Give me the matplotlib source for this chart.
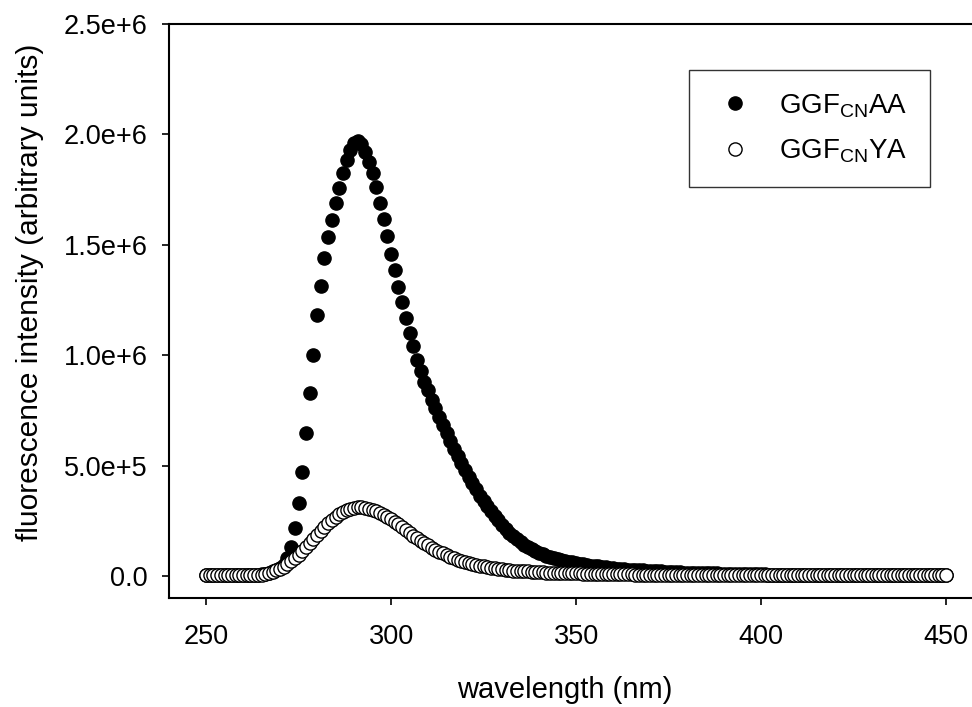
"""Fluorescence emission spectra of GGF(CN)AA and GGF(CN)YA."""

import matplotlib
matplotlib.use('Agg')
import matplotlib.pyplot as plt
import numpy as np

plt.rcParams['font.family'] = 'Liberation Sans'
plt.rcParams['mathtext.fontset'] = 'custom'
plt.rcParams['mathtext.rm'] = 'Liberation Sans'
plt.rcParams['mathtext.it'] = 'Liberation Sans:italic'
plt.rcParams['mathtext.bf'] = 'Liberation Sans:bold'

# wavelength, 1 nm steps
wavelength = np.arange(250, 451)

# intensities, in thousands
aa_k = [2, 2, 2, 2, 2, 2, 2, 3, 3, 3,
        3, 4, 4, 5, 6, 8, 10, 14, 20, 28,
        38, 50, 80, 133, 217, 330, 472, 646, 830, 1000,
        1180, 1315, 1440, 1535, 1612, 1688, 1756, 1827, 1884, 1930,
        1962, 1971, 1957, 1922, 1876, 1824, 1763, 1690, 1615, 1540,
        1460, 1385, 1310, 1240, 1170, 1100, 1040, 980, 930, 880,
        840, 797, 760, 722, 685, 647, 612, 577, 543, 510,
        480, 450, 420, 392, 362, 338, 315, 293, 272, 251,
        231, 213, 196, 181, 167, 154, 142, 131, 121, 112,
        104, 97, 91, 86, 81, 77, 73, 69, 65, 62,
        59, 56, 53, 50, 47, 45, 43, 41, 39, 37,
        35, 33, 32, 30, 29, 28, 27, 26, 25, 24,
        23, 22, 21, 20, 19, 18, 17, 17, 16, 15,
        15, 14, 14, 13, 13, 12, 12, 11, 11, 10,
        10, 10, 9, 9, 9, 8, 8, 8, 7, 7,
        7, 7, 6, 6, 6, 6, 5, 5, 5, 5,
        5, 5, 4, 4, 4, 4, 4, 4, 4, 3,
        3, 3, 3, 3, 3, 3, 3, 3, 3, 3,
        3, 3, 3, 2, 2, 2, 2, 2, 2, 2,
        2, 2, 2, 2, 2, 2, 2, 2, 2, 2,
        2]
ya_k = [3, 3, 3, 3, 3, 3, 3, 3, 3, 3,
        3, 3, 4, 4, 5, 6, 8, 12, 18, 25,
        33, 42, 53, 66, 80, 96, 113, 131, 150, 168,
        186, 204, 222, 238, 254, 268, 280, 290, 298, 304,
        308, 310, 310, 308, 304, 299, 293, 286, 278, 269,
        258, 246, 233, 220, 207, 194, 182, 170, 159, 148,
        138, 128, 119, 110, 102, 94, 87, 80, 74, 68,
        63, 58, 54, 50, 46, 43, 40, 37, 34, 32,
        30, 28, 26, 24, 23, 22, 21, 20, 19, 18,
        17, 16, 15, 15, 14, 14, 13, 13, 12, 12,
        11, 11, 10, 10, 10, 9, 9, 9, 8, 8,
        8, 8, 7, 7, 7, 7, 6, 6, 6, 6,
        6, 6, 5, 5, 5, 5, 5, 5, 5, 5,
        5, 5, 5, 4, 4, 4, 4, 4, 4, 4,
        4, 4, 4, 4, 4, 4, 4, 4, 4, 4,
        4, 4, 4, 4, 4, 4, 4, 4, 4, 4,
        4, 4, 4, 4, 4, 3, 3, 3, 3, 3,
        3, 3, 3, 3, 3, 3, 3, 3, 3, 3,
        3, 3, 3, 3, 3, 3, 3, 3, 3, 3,
        3, 3, 3, 3, 3, 3, 3, 3, 3, 3,
        3]
labels = [r'GGF$_{\mathrm{CN}}$AA', r'GGF$_{\mathrm{CN}}$YA']
yticks = [0, 0.5e6, 1.0e6, 1.5e6, 2.0e6, 2.5e6]
ytick_labels = ['0.0', '5.0e+5', '1.0e+6', '1.5e+6', '2.0e+6', '2.5e+6']

fig = plt.figure(figsize=(9.72, 7.07), dpi=100)
ax = fig.add_axes([0.1739, 0.1542, 0.8261, 0.8119])

ax.plot(wavelength, np.array(aa_k) * 1e3, linestyle='none', marker='o', ms=9.5,
        color='black', markeredgecolor='black', label=labels[0])
ax.plot(wavelength, np.array(ya_k) * 1e3, linestyle='none', marker='o', ms=9.5,
        markerfacecolor='white', markeredgecolor='black', markeredgewidth=1.0,
        label=labels[1])

ax.set_xlim(240, 457)
ax.set_ylim(-1e5, 2.5e6)
ax.set_xticks([250, 300, 350, 400, 450])
ax.set_yticks(yticks)
ax.set_yticklabels(ytick_labels)

ax.spines['right'].set_visible(False)
for s in ['left', 'top', 'bottom']:
    ax.spines[s].set_linewidth(1.5)
ax.tick_params(axis='both', direction='out', length=5, width=1.2, labelsize=19.5)
ax.tick_params(axis='y', pad=10.5)
ax.tick_params(axis='x', pad=13.5)

ax.set_xlabel('wavelength (nm)', fontsize=21, va='center')
ax.xaxis.set_label_coords(0.493, -0.160)
ax.set_ylabel('fluorescence intensity (arbitrary units)', fontsize=21.5, va='center')
ax.yaxis.set_label_coords(-0.173, 0.532)

leg = ax.legend(loc='upper left', bbox_to_anchor=(0.6476, 0.9199), borderaxespad=0,
                fontsize=20, frameon=True, fancybox=False, borderpad=0.8,
                handlelength=1.7, handletextpad=0.75, labelspacing=0.65,
                markerscale=1.0)
leg.get_frame().set_edgecolor('black')
leg.get_frame().set_linewidth(1.0)

fig.savefig('out.png', dpi=100)
